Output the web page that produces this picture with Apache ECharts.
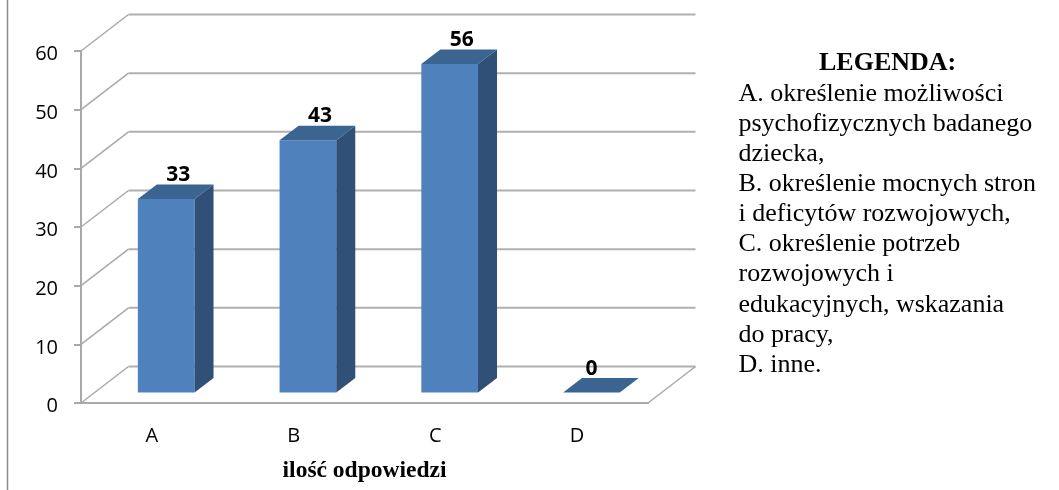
<!DOCTYPE html>
<html>
<head>
<meta charset="utf-8">
<style>html,body{margin:0;padding:0;background:#fff}#c{width:1059px;height:490px}#c canvas{filter:blur(0.4px)}</style>
<script src="https://cdn.jsdelivr.net/npm/echarts@6/dist/echarts.min.js"></script>
</head>
<body>
<div id="c"></div>
<script>
const categories = ['A', 'B', 'C', 'D'];
const values = [33, 43, 56, 0];
const yTicks = [0, 10, 20, 30, 40, 50, 60];
const axisName = 'ilość odpowiedzi';
const legendTitle = 'LEGENDA:';
const legendLines = [
  'A. określenie możliwości',
  'psychofizycznych badanego',
  'dziecka,',
  'B. określenie mocnych stron',
  'i deficytów rozwojowych,',
  'C. określenie potrzeb',
  'rozwojowych i',
  'edukacyjnych, wskazania',
  'do pracy,',
  'D. inne.'
];

const SANS = '"Open Sans", sans-serif';
const SERIF = '"Liberation Serif", serif';
const GREY = '#a9a9a9';
const WALL = [47.5, -36.5];      // depth of the 3D floor
const BAR_SHIFT = [14.3, -10.4]; // bar front offset from the front plane
const BAR_DEPTH = [19, -14.5];

const legendText = [{
  type: 'text', left: 819, top: 50,
  style: { text: legendTitle, font: 'bold 26px ' + SERIF, fill: '#000' }
}].concat(legendLines.map((t, i) => ({
  type: 'text', left: 738.5, top: 81 + i * 30.1,
  style: { text: t, font: '26px ' + SERIF, fill: '#000' }
})));

const chart = echarts.init(document.getElementById('c'), null, { renderer: 'canvas' });
chart.setOption({
  animation: false,
  backgroundColor: '#fff',
  grid: { left: 81, right: 411, top: 51, bottom: 87, outerBoundsMode: 'none' },
  xAxis: {
    type: 'category',
    data: categories,
    axisLine: { lineStyle: { color: GREY, width: 2 } },
    axisTick: { show: false },
    axisLabel: { margin: 23, color: '#000', fontFamily: SANS, fontSize: 20 },
    name: axisName,
    nameLocation: 'middle',
    nameGap: 56,
    nameTextStyle: { fontFamily: SERIF, fontWeight: 'bold', fontSize: 23.5, color: '#000' }
  },
  yAxis: {
    type: 'value',
    min: 0, max: 60, interval: 10,
    axisLine: { show: true, lineStyle: { color: GREY, width: 2 } },
    axisTick: { show: true, length: 7, lineStyle: { color: GREY, width: 2 } },
    axisLabel: { margin: 23, color: '#000', fontFamily: SANS, fontSize: 20, verticalAlign: 'top', lineHeight: 7 },
    splitLine: { show: false }
  },
  series: [
    {
      type: 'custom',
      z: 1,
      silent: true,
      clip: false,
      data: yTicks.map(v => [0, v]),
      renderItem(params, api) {
        const cs = params.coordSys;
        const y = api.coord([0, api.value(1)])[1];
        const x0 = cs.x, x1 = cs.x + cs.width;
        const children = [
          { type: 'polyline', shape: { points: [[x0, y], [x0 + WALL[0], y + WALL[1]]] },
            style: { stroke: GREY, lineWidth: 1.5, fill: null } },
          { type: 'polyline', shape: { points: [[x0 + WALL[0], y + WALL[1]], [x1 + WALL[0], y + WALL[1]]] },
            style: { stroke: '#b0b0b0', lineWidth: 2, fill: null } }
        ];
        if (api.value(1) === 0) {
          children.push({ type: 'polyline', shape: { points: [[x1, y], [x1 + WALL[0], y + WALL[1]]] },
            style: { stroke: GREY, lineWidth: 1.5, fill: null } });
        }
        return { type: 'group', children };
      }
    },
    {
      type: 'custom',
      z: 3,
      clip: false,
      data: categories.map((c, i) => [i, values[i]]),
      renderItem(params, api) {
        const v = api.value(1);
        const base = api.coord([api.value(0), 0]);
        const top = api.coord([api.value(0), v]);
        const w = api.size([1, 0])[0] * 0.4;
        const l = base[0] + BAR_SHIFT[0] - w / 2, r = l + w;
        const yb = base[1] + BAR_SHIFT[1], yt = top[1] + BAR_SHIFT[1];
        const dx = BAR_DEPTH[0], dy = BAR_DEPTH[1];
        const poly = (points, fill) => ({ type: 'polygon', shape: { points }, style: { fill } });
        return {
          type: 'group',
          children: [
            poly([[l, yt], [r, yt], [r, yb], [l, yb]], '#4f81bd'),
            poly([[r, yt], [r + dx, yt + dy], [r + dx, yb + dy], [r, yb]], '#305078'),
            poly([[l, yt], [l + dx, yt + dy], [r + dx, yt + dy], [r, yt]], '#3b6491'),
            { type: 'text', z2: 10, style: {
                text: String(v),
                x: l + w / 2 + (v === 0 ? 0 : 12),
                y: yt - 24,
                align: 'center', verticalAlign: 'middle',
                fontFamily: SANS, fontWeight: 'bold', fontSize: 21, fill: '#000'
            } }
          ]
        };
      }
    }
  ],
  graphic: [
    { type: 'line', shape: { x1: 7.5, y1: 0, x2: 7.5, y2: 490 }, style: { stroke: '#8c8c8c', lineWidth: 1.5 } }
  ].concat(legendText)
});
</script>
</body>
</html>
